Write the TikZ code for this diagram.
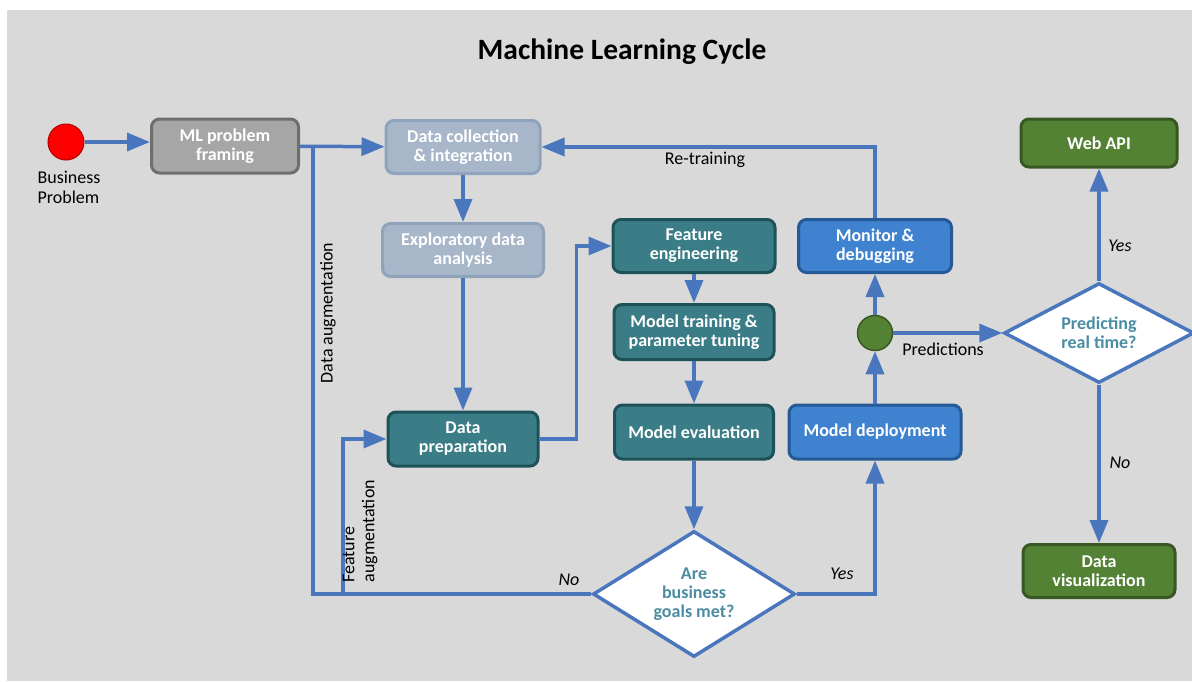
\documentclass[tikz,border=0pt]{standalone}
\usepackage{fontspec}
\setmainfont{Carlito}
\usetikzlibrary{arrows.meta,shapes.geometric}

\definecolor{paper}{HTML}{D9D9D9}
\definecolor{flowblue}{HTML}{4A76BE}
\definecolor{greyfill}{HTML}{A6A6A6}
\definecolor{greyline}{HTML}{6E6E6E}
\definecolor{paleflll}{HTML}{A8B6C9}
\definecolor{paleline}{HTML}{8FA3BC}
\definecolor{tealfill}{HTML}{3A7D86}
\definecolor{tealline}{HTML}{1E525B}
\definecolor{bluefill}{HTML}{3F82CF}
\definecolor{blueline}{HTML}{255A96}
\definecolor{greenfill}{HTML}{548235}
\definecolor{greenline}{HTML}{385723}
\definecolor{asktext}{HTML}{4A8DA3}

\newcommand{\boxfont}{\bfseries\fontsize{18}{19}\selectfont}
\newcommand{\labfont}{\fontsize{18}{20}\selectfont}

\begin{document}
\begin{tikzpicture}[x=1pt,y=-1pt,
	flow/.style={draw=flowblue,line width=3.5pt,-{Triangle[length=23pt,width=18pt]}},
	wire/.style={draw=flowblue,line width=3.5pt},
	stage/.style={rectangle,rounded corners=8pt,line width=3pt,text=white,font=\boxfont,align=center,inner sep=0pt},
	greystage/.style={stage,fill=greyfill,draw=greyline},
	palestage/.style={stage,fill=paleflll,draw=paleline},
	tealstage/.style={stage,fill=tealfill,draw=tealline},
	bluestage/.style={stage,fill=bluefill,draw=blueline},
	greenstage/.style={stage,fill=greenfill,draw=greenline},
	ask/.style={diamond,aspect=1.6,inner sep=0pt,fill=white,draw=flowblue,line width=3.5pt,text=asktext,font=\boxfont,align=center},
	lab/.style={font=\labfont,text=black}]

	\useasboundingbox[fill=white] (0,0) rectangle (1192,681);
	\fill[paper] (7,10) rectangle (1192,681);

	\node[font=\bfseries\fontsize{29.5}{33}\selectfont] (title) at (622,52) {Machine Learning Cycle};

	% start and data side
	\node[circle,fill=red,draw=red!70!black,line width=1pt,minimum size=36pt,inner sep=0pt] (bizprob) at (66,142) {};
	\node[lab,align=left,anchor=north west] (bizlabel) at (34,168) {Business\\Problem};
	\node[greystage,minimum width=147pt,minimum height=54pt] (framing) at (225,146) {ML problem\\framing};
	\node[palestage,minimum width=154pt,minimum height=53pt] (collect) at (463,147) {Data collection\\\& integration};
	\node[palestage,minimum width=161pt,minimum height=53pt] (explore) at (463,250) {Exploratory data\\analysis};
	\node[tealstage,minimum width=150pt,minimum height=54pt] (prep) at (463,439) {Data\\preparation};

	% model side
	\node[tealstage,minimum width=162pt,minimum height=53pt] (feature) at (694,246) {Feature\\engineering};
	\node[tealstage,minimum width=160pt,minimum height=55pt] (train) at (694,332) {Model training \&\\parameter tuning};
	\node[tealstage,minimum width=159pt,minimum height=54pt] (evaluate) at (694,432) {Model evaluation};
	\node[ask,minimum width=202pt,minimum height=126pt] (goals) at (694,594) {Are\\business\\goals met?};

	\node[bluestage,minimum width=172pt,minimum height=54pt] (deploy) at (875,432) {Model deployment};
	\node[circle,fill=greenfill,draw=greenline,line width=1.5pt,minimum size=35pt,inner sep=0pt] (predict) at (875,333) {};
	\node[bluestage,minimum width=153pt,minimum height=53pt] (monitor) at (875,246) {Monitor \&\\debugging};

	% serving side
	\node[ask,minimum width=190pt,minimum height=100pt] (realtime) at (1099,333) {Predicting\\real time?};
	\node[greenstage,minimum width=156pt,minimum height=48pt] (webapi) at (1099,143) {Web API};
	\node[greenstage,minimum width=152pt,minimum height=53pt] (dataviz) at (1099,571) {Data\\visualization};

	\coordinate (dataaug) at (313,147);
	\coordinate (featfork) at (343,594);

	\draw[flow] (bizprob) -- (bizprob -| framing.west);
	\draw[flow] (framing) -- (collect);
	\draw[flow] (collect) -- (explore);
	\draw[flow] (explore) -- (prep);
	\draw[flow] (prep.east) -- ++(37,0) |- (feature.west);
	\draw[flow] (feature) -- (train);
	\draw[flow] (train) -- (evaluate);
	\draw[flow] (evaluate) -- (goals);
	\draw[flow] (goals.east) -| (deploy);
	\draw[flow] (deploy) -- (predict);
	\draw[flow] (predict) -- (monitor);
	\draw[flow] (monitor) |- (collect);
	\draw[flow] (predict) -- (realtime);
	\draw[flow] (realtime) -- (webapi);
	\draw[flow] (realtime) -- (dataviz);
	\draw[wire] (goals.west) -| (dataaug);
	\draw[flow] (featfork) |- (prep.west);

	% connector labels
	\node[lab] (retrain) at (705,160) {Re-training};
	\node[lab] (predlabel) at (943,349) {Predictions};
	\node[lab,rotate=90] (auglabel) at (328,313) {Data augmentation};
	\node[lab,rotate=90,align=left,anchor=south west] (featlabel) at (381,586) {Feature\\augmentation};
	\node[lab,font=\labfont\itshape] (nolabel) at (569,580) {No};
	\node[lab,font=\labfont\itshape] (yeslabel) at (842,574) {Yes};
	\node[lab,font=\labfont\itshape] (webyes) at (1120,246) {Yes};
	\node[lab,font=\labfont\itshape] (vizno) at (1120,463) {No};
\end{tikzpicture}
\end{document}
